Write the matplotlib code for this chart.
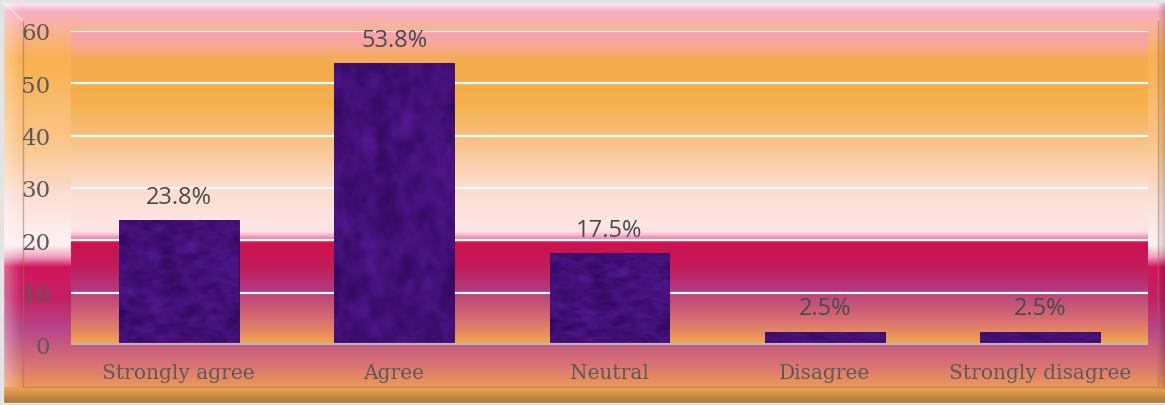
import numpy as np
import matplotlib
matplotlib.use("Agg")
import matplotlib.pyplot as plt
from matplotlib.colors import to_rgb
from matplotlib.patches import Rectangle

categories = ["Strongly agree", "Agree", "Neutral", "Disagree", "Strongly disagree"]
percentages = [23.8, 53.8, 17.5, 2.5, 2.5]
y_ticks = [0, 10, 20, 30, 40, 50, 60]

W, H = 1165, 406
fig = plt.figure(figsize=(W / 100, H / 100), dpi=100)


def vgradient(stops, n=800):
    """Build an (n, 1, 3) image from (position, colour) stops, top to bottom."""
    pos = np.array([p for p, _ in stops])
    cols = np.array([to_rgb(c) for _, c in stops])
    t = np.linspace(0, 1, n)
    img = np.stack([np.interp(t, pos, cols[:, k]) for k in range(3)], axis=-1)
    return img[:, None, :]


# ---- outer chart-area background -------------------------------------------
bg = fig.add_axes([0, 0, 1, 1], zorder=-10)
bg.set_xlim(0, W)
bg.set_ylim(H, 0)
bg.axis("off")
outer_stops = [
    (0, "#f6c6d6"), (5, "#fde2ec"), (12, "#f8aec6"), (26, "#fab4a0"),
    (60, "#f9b04e"), (150, "#fbc890"), (200, "#fde0d8"), (246, "#fff3f3"),
    (258, "#f2a0c0"), (268, "#d2145a"), (300, "#c22262"), (330, "#b6468a"),
    (368, "#dc7672"), (392, "#efa052"), (406, "#efa052"),
]
bg.imshow(vgradient([(p / H, c) for p, c in outer_stops]), extent=[0, W, H, 0],
          aspect="auto", zorder=0)
# bevel: light left edge, dark bottom edge, highlight across the top
bev_left = np.linspace(0.35, 0.0, 20)[None, :, None]
left_img = np.concatenate([np.ones((1, 20, 3)), bev_left], axis=-1)
bg.imshow(left_img, extent=[3, 23, 388, 3], aspect="auto", zorder=1)
bot = vgradient([(0, "#e8a050"), (0.5, "#c88a42"), (1, "#a8763a")], 50)
bg.imshow(bot, extent=[3, W, H - 2, 390], aspect="auto", zorder=1)
right_img = np.concatenate([np.zeros((1, 8, 3)),
                            np.linspace(0.0, 0.18, 8)[None, :, None]], axis=-1)
bg.imshow(right_img, extent=[W - 8, W, 390, 3], aspect="auto", zorder=1)
bg.add_patch(Rectangle((0, 0), W, 3, color="#e4e4e4", zorder=2))
bg.add_patch(Rectangle((0, 0), 3, H, color="#e4e4e4", zorder=2))
bg.add_patch(Rectangle((0, H - 2), W, 2, color="#e4e4e4", zorder=2))
bg.plot([3, 23], [3, 22], color="#ffffff", alpha=0.5, lw=1, zorder=2)
# inner frame line
bg.plot([23, 23, 1158, 1158], [22, 388, 388, 22], color="#9a7460", lw=1.0,
        alpha=0.55, zorder=3)

# ---- plot area ---------------------------------------------------------------
left, right, top, base = 71, 1148, 32, 346
ax = fig.add_axes([left / W, 1 - base / H, (right - left) / W, (base - top) / H])
x_lo, x_hi = -0.5, len(categories) - 0.5

plot_stops = [
    (32, "#f7a2b8"), (46, "#f8a896"), (62, "#f5ac4c"), (105, "#f6b04e"),
    (145, "#f8c48c"), (185, "#fcdccb"), (225, "#fde6e4"), (233, "#fde0e6"),
    (239, "#f48cae"), (244, "#d0104e"), (266, "#c21a58"), (291, "#b23a80"),
    (300, "#c04c78"), (322, "#d87070"), (346, "#f5aa4e"),
]
ax.imshow(vgradient([((p - top) / (base - top), c) for p, c in plot_stops]),
          extent=[x_lo, x_hi, 0, 60], origin="upper", aspect="auto", zorder=0)

for t in y_ticks[1:]:
    ax.axhline(t, color="#ffffff", lw=1.6, zorder=1)
ax.axhline(0, color="#b8b8b8", lw=3.0, zorder=4)

x = np.arange(len(categories))
bars = ax.bar(x, percentages, width=0.557, color="#3f0c72", edgecolor="#2c0858",
              linewidth=0.6, zorder=2)

# mottled velvet texture on each bar (smoothed noise)
rng = np.random.default_rng(7)
noise = rng.standard_normal((260, 160))
fy = np.fft.fftfreq(260)[:, None]
fx = np.fft.fftfreq(160)[None, :]
soft = np.real(np.fft.ifft2(np.fft.fft2(noise) * np.exp(-(fx**2 + fy**2) * 900)))
fine = np.real(np.fft.ifft2(np.fft.fft2(noise) * np.exp(-(fx**2 + fy**2) * 120)))
tex = soft / np.abs(soft).max() + 0.5 * fine / np.abs(fine).max()
tex = (tex - tex.min()) / (tex.max() - tex.min())
dark, light = np.array(to_rgb("#2a0752")), np.array(to_rgb("#5c1a9c"))
tex_img = dark + (light - dark) * tex[..., None]
for b in bars:
    im = ax.imshow(tex_img, extent=[b.get_x(), b.get_x() + b.get_width(),
                                    0, b.get_height()],
                   aspect="auto", zorder=3, alpha=0.9)
    im.set_clip_path(b)
ax.set_ylim(0, 60)
ax.set_xlim(x_lo, x_hi)

for xi, v in zip(x, percentages):
    ax.text(xi, v + 4.5, f"{v}%", ha="center", va="center", fontsize=17,
            color="#4a4a4a", family="Open Sans", zorder=5)

for s in ax.spines.values():
    s.set_visible(False)
ax.set_yticks(y_ticks)
ax.set_yticklabels([str(t) for t in y_ticks], family="DejaVu Serif",
                   fontsize=16.5, color="#5a5a5a")
ax.set_xticks(x)
ax.set_xticklabels(categories, family="DejaVu Serif", fontsize=14.5,
                   color="#5a5a5a")
ax.tick_params(axis="y", length=0, pad=15)
ax.tick_params(axis="x", length=0, pad=13)

fig.savefig("out.png", dpi=100)
